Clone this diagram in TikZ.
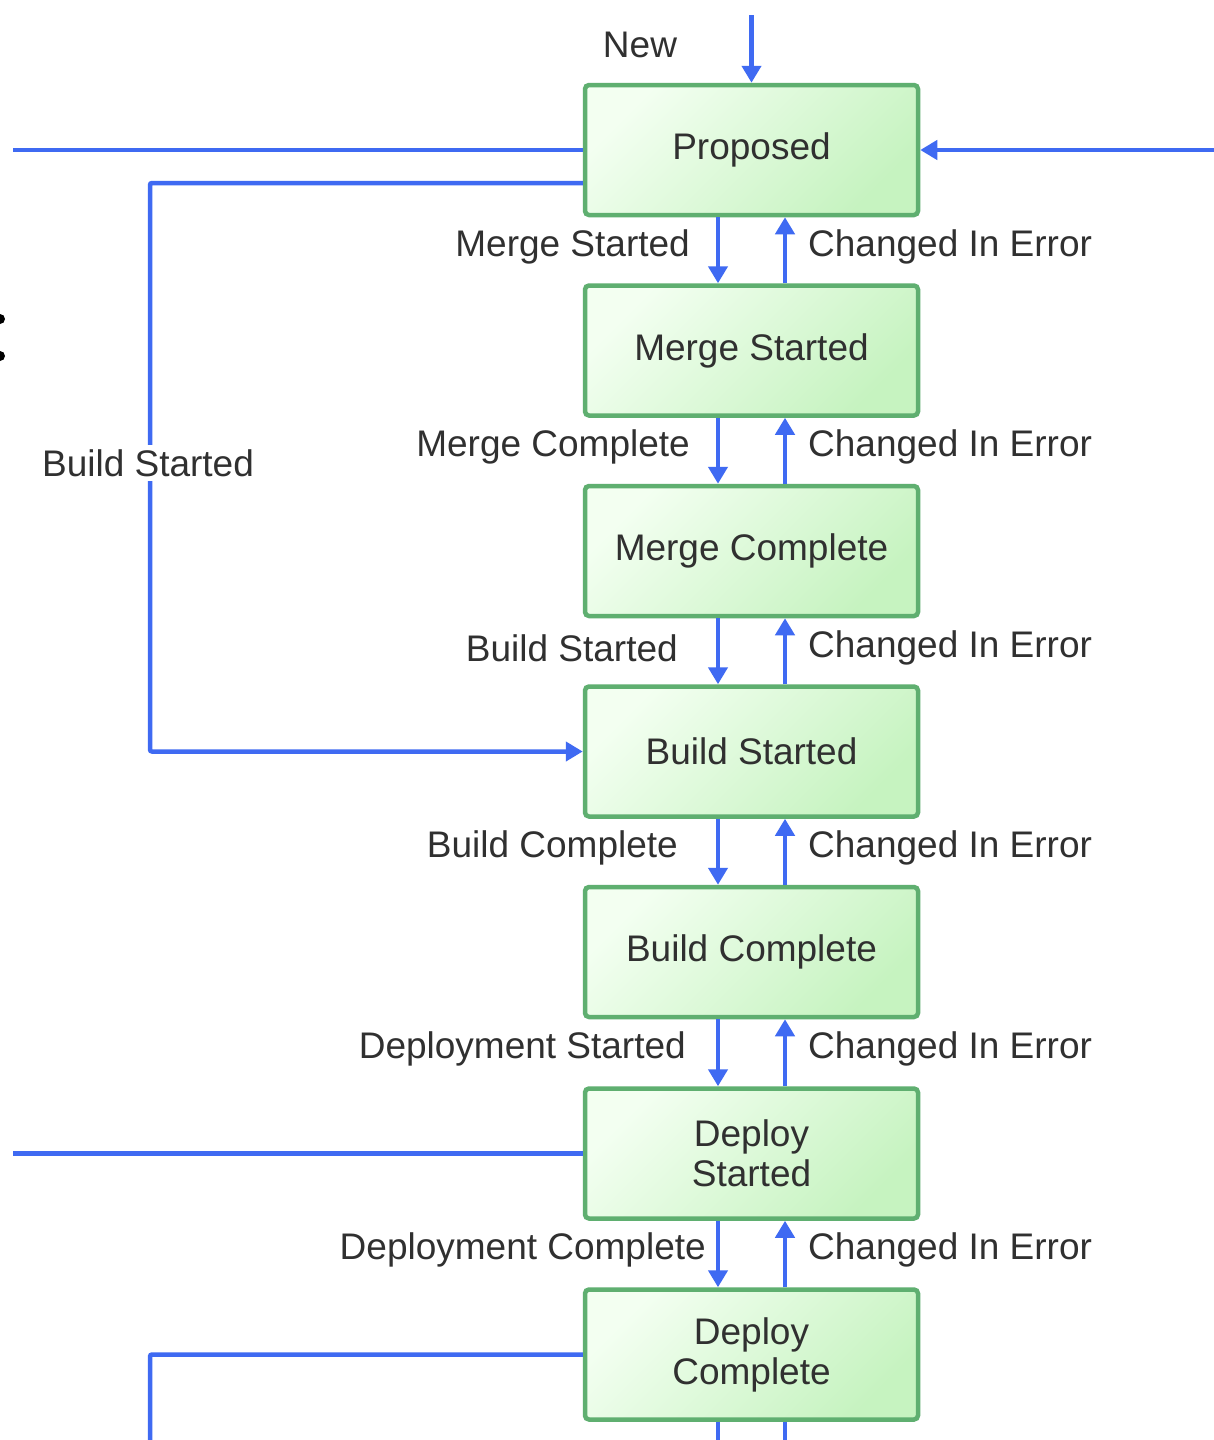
\documentclass[tikz,border=0pt]{standalone}
\usepackage{fontspec}
\setmainfont{Liberation Sans}
\usetikzlibrary{arrows.meta}
\definecolor{flow}{HTML}{3F6AF2}
\definecolor{boxedge}{HTML}{5FAF70}
\definecolor{boxlight}{HTML}{F3FFF1}
\definecolor{boxdark}{HTML}{C6F3C0}
\definecolor{txt}{HTML}{303030}
\newcommand\dgfont{\fontsize{37}{42}\selectfont}
\begin{document}
\begin{tikzpicture}[x=1pt,y=-1pt,
  state/.style={draw=boxedge, line width=4.5pt, rounded corners=4pt,
    minimum width=333pt, minimum height=130pt, inner sep=0pt,
    top color=boxlight, bottom color=boxdark, shading angle=45,
    text=txt, font=\dgfont, align=center},
  lab/.style={text=txt, font=\dgfont, inner sep=0pt},
  wire/.style={draw=flow, line width=4.5pt},
  arr/.style={wire, -{Triangle[length=17pt,width=19pt]}},
]
\useasboundingbox (0,0) rectangle (1214,1440);
\fill[white] (0,0) rectangle (1214,1440);

% states
\node[state] (p)  at (751.5,150.0)  {Proposed};
\node[state] (ms) at (751.5,350.5)  {Merge Started};
\node[state] (mc) at (751.5,551.0)  {Merge Complete};
\node[state] (bs) at (751.5,751.5)  {Build Started};
\node[state] (bc) at (751.5,952.0)  {Build Complete};
\node[state] (ds) at (751.5,1153.5) {Deploy\\[-2pt]Started};
\node[state] (dc) at (751.5,1354.5) {Deploy\\[-2pt]Complete};

% vertical transitions
\foreach \a/\b in {p/ms, ms/mc, mc/bs, bs/bc, bc/ds, ds/dc}{
  \draw[arr] ([xshift=-33.5pt]\a.south) -- ([xshift=-33.5pt]\b.north);
  \draw[arr] ([xshift=33.5pt]\b.north) -- ([xshift=33.5pt]\a.south);
}

% labels between boxes
\node[lab, anchor=east] (l1) at (690,247)  {Merge Started};
\node[lab, anchor=east] (l2) at (690,447)  {Merge Complete};
\node[lab, anchor=east] (l3) at (678,648)  {Build Started};
\node[lab, anchor=east] (l4) at (678,848)  {Build Complete};
\node[lab, anchor=east] (l5) at (686,1049) {Deployment Started};
\node[lab, anchor=east] (l6) at (706,1250) {Deployment Complete};
\foreach \y [count=\i] in {247,447,648,848,1049,1250}
  \node[lab, anchor=west] (r\i) at (808,\y) {Changed In Error};

% New
\coordinate (newtop) at (751.5,15);
\draw[arr] (newtop) -- (p.north);
\node[lab] (new) at (640,45) {New};

% side lines of Proposed
\coordinate (pl) at (13,150);
\draw[wire] (p.west) -- (pl);
\coordinate (pr) at (1216,150);
\draw[arr] (pr) -- (p.east);

% Build Started loop
\coordinate (bl1) at (150,183);
\coordinate (bl2) at (150,751.5);
\draw[arr, rounded corners=2pt] ([yshift=-33pt]p.west) -- (bl1) -- (bl2) -- (bs.west);
\node[lab, fill=white, inner sep=4pt] (bsl) at (148,463) {Build Started};

% Deploy Started line
\coordinate (dsl) at (13,1153.5);
\draw[wire] (ds.west) -- (dsl);

% Deploy Complete line
\coordinate (dcl1) at (150,1354.5);
\coordinate (dcl2) at (150,1442);
\draw[wire, rounded corners=2pt] (dc.west) -- (dcl1) -- (dcl2);

% continuation below Deploy Complete
\coordinate (dn) at (718,1442);
\coordinate (up) at (785,1442);
\draw[wire] ([xshift=-33.5pt]dc.south) -- (dn);
\draw[wire] ([xshift=33.5pt]dc.south) -- (up);

% cut-off marks at the left edge
\fill[black] (0,319) circle (5pt);
\fill[black] (0,356) circle (5pt);
\end{tikzpicture}
\end{document}
